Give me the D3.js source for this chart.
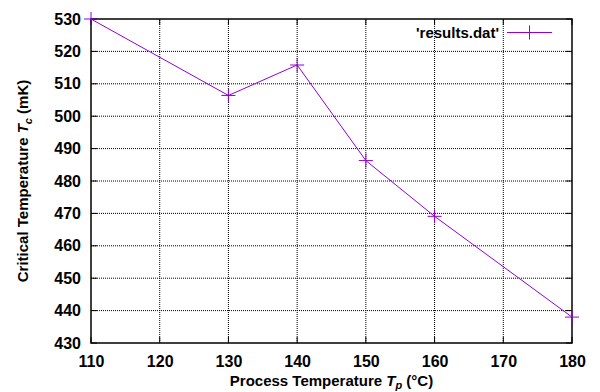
<!DOCTYPE html>
<html>
<head>
<meta charset="utf-8">
<script src="https://cdn.jsdelivr.net/npm/d3@7"></script>
<style>
  body { margin: 0; background: #fff; }
  svg text { font-family: "Liberation Sans", Arial, sans-serif; font-weight: bold; fill: #000; }
</style>
</head>
<body>
<svg id="chart" width="600" height="392"></svg>
<script>
// Critical temperature vs. process temperature (gnuplot-style)
const processTemp = [110, 130, 140, 150, 160, 180];
const criticalTemp = [530, 506.4, 515.8, 486.3, 469.1, 438];
const xTicks = [110, 120, 130, 140, 150, 160, 170, 180];
const yTicks = [430, 440, 450, 460, 470, 480, 490, 500, 510, 520, 530];
const seriesName = "'results.dat'";

const LINE = "#9400d3";
const margin = { left: 91, top: 19, right: 28, bottom: 49 };
const W = 600, H = 392;

const svg = d3.select("#chart");
const x = d3.scaleLinear().domain([110, 180]).range([margin.left, W - margin.right]);
const y = d3.scaleLinear().domain([430, 530]).range([H - margin.bottom, margin.top]);

// grid
const grid = svg.append("g");
grid.selectAll(".gx").data(xTicks.slice(1, -1)).enter().append("line")
  .attr("x1", d => x(d)).attr("x2", d => x(d))
  .attr("y1", y(430)).attr("y2", y(530))
  .attr("stroke", "#000").attr("stroke-width", 1).attr("stroke-dasharray", "1,1");
grid.selectAll(".gy").data(yTicks.slice(1, -1)).enter().append("line")
  .attr("y1", d => y(d)).attr("y2", d => y(d))
  .attr("x1", x(110)).attr("x2", x(180))
  .attr("stroke", "#000").attr("stroke-width", 1).attr("stroke-dasharray", "1,1");

// axes: labels only, ticks drawn inward
const xAxis = svg.append("g").attr("transform", `translate(0,${y(430)})`)
  .call(d3.axisBottom(x).tickValues(xTicks).tickSize(0).tickPadding(13));
const yAxis = svg.append("g").attr("transform", `translate(${x(110)},0)`)
  .call(d3.axisLeft(y).tickValues(yTicks).tickSize(0).tickPadding(10));
[xAxis, yAxis].forEach(a => {
  a.select(".domain").remove();
  a.selectAll("text").style("font-size", "16px").style("font-family", "Liberation Sans, Arial, sans-serif").style("font-weight", "bold");
});

// inward ticks on all four sides
const t = svg.append("g").attr("stroke", "#000").attr("stroke-width", 1);
xTicks.forEach(v => {
  t.append("line").attr("x1", x(v)).attr("x2", x(v)).attr("y1", y(430)).attr("y2", y(430) - 6);
  t.append("line").attr("x1", x(v)).attr("x2", x(v)).attr("y1", y(530)).attr("y2", y(530) + 6);
});
yTicks.forEach(v => {
  t.append("line").attr("y1", y(v)).attr("y2", y(v)).attr("x1", x(110)).attr("x2", x(110) + 6);
  t.append("line").attr("y1", y(v)).attr("y2", y(v)).attr("x1", x(180)).attr("x2", x(180) - 6);
});

// border
svg.append("rect")
  .attr("x", x(110)).attr("y", y(530))
  .attr("width", x(180) - x(110)).attr("height", y(430) - y(530))
  .attr("fill", "none").attr("stroke", "#000").attr("stroke-width", 1.5);

// data line + plus markers
const pts = processTemp.map((d, i) => [d, criticalTemp[i]]);
svg.append("path")
  .datum(pts)
  .attr("d", d3.line().x(d => x(d[0])).y(d => y(d[1])))
  .attr("fill", "none").attr("stroke", LINE).attr("stroke-width", 1);

const r = 7;
const marks = svg.append("g").attr("stroke", LINE).attr("stroke-width", 1);
pts.forEach(d => {
  const cx = x(d[0]), cy = y(d[1]);
  marks.append("line").attr("x1", cx - r).attr("x2", cx + r).attr("y1", cy).attr("y2", cy);
  marks.append("line").attr("x1", cx).attr("x2", cx).attr("y1", cy - r).attr("y2", cy + r);
});

// legend
svg.append("text").attr("x", 499).attr("y", 38).attr("text-anchor", "end")
  .style("font-size", "15px").text(seriesName);
svg.append("line").attr("x1", 507).attr("x2", 552).attr("y1", 32.5).attr("y2", 32.5)
  .attr("stroke", LINE).attr("stroke-width", 1);
svg.append("line").attr("x1", 529.5).attr("x2", 529.5).attr("y1", 25.5).attr("y2", 39.5)
  .attr("stroke", LINE).attr("stroke-width", 1);

// axis titles
const xt = svg.append("text").attr("x", x(145)).attr("y", 386).attr("text-anchor", "middle")
  .style("font-size", "15px");
xt.append("tspan").text("Process Temperature ");
xt.append("tspan").style("font-style", "italic").text("T");
xt.append("tspan").attr("dy", 3).style("font-style", "italic").style("font-size", "11px").text("p");
xt.append("tspan").attr("dy", -3).text(" (°C)");

const yt = svg.append("text")
  .attr("transform", `translate(28,${(y(430) + y(530)) / 2}) rotate(-90)`)
  .attr("text-anchor", "middle").style("font-size", "15px");
yt.append("tspan").text("Critical Temperature ");
yt.append("tspan").style("font-style", "italic").text("T");
yt.append("tspan").attr("dy", 4).style("font-style", "italic").style("font-size", "11px").text("c");
yt.append("tspan").attr("dy", -4).text(" (mK)");
</script>
</body>
</html>
